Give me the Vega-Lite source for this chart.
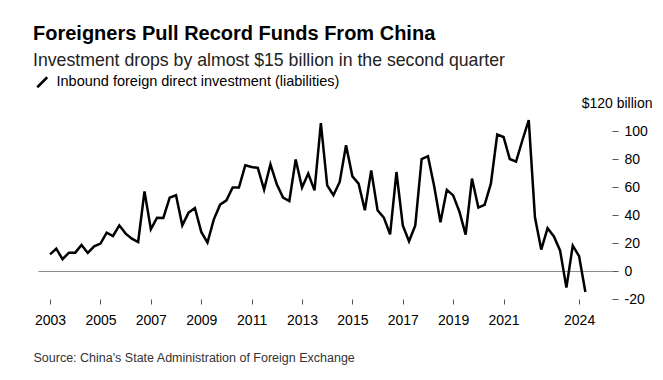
{
  "$schema": "https://vega.github.io/schema/vega-lite/v6.json",
  "width": 574,
  "height": 196,
  "autosize": {"type": "none"},
  "padding": {"left": 38, "top": 103, "right": 51, "bottom": 81},
  "background": "#ffffff",
  "config": {
    "view": {"stroke": null},
    "font": "Liberation Sans"
  },
  "title": {
    "text": "Foreigners Pull Record Funds From China",
    "subtitle": "Investment drops by almost $15 billion in the second quarter",
    "anchor": "start",
    "frame": "group",
    "dx": -5,
    "offset": 5,
    "font": "Liberation Sans",
    "fontSize": 20,
    "fontWeight": "bold",
    "color": "#000000",
    "subtitleFont": "Liberation Sans",
    "subtitleFontSize": 17.7,
    "subtitleColor": "#222222",
    "subtitlePadding": 8
  },
  "data": {
    "values": [
      {"date": "2003-01-01", "value": 11.9}, {"date": "2003-04-01", "value": 16}, {"date": "2003-07-01", "value": 8.4}, {"date": "2003-10-01", "value": 13.1},
      {"date": "2004-01-01", "value": 13.1}, {"date": "2004-04-01", "value": 18.6}, {"date": "2004-07-01", "value": 12.9}, {"date": "2004-10-01", "value": 17.6},
      {"date": "2005-01-01", "value": 19.6}, {"date": "2005-04-01", "value": 27.4}, {"date": "2005-07-01", "value": 25}, {"date": "2005-10-01", "value": 32.6},
      {"date": "2006-01-01", "value": 26.7}, {"date": "2006-04-01", "value": 23.1}, {"date": "2006-07-01", "value": 20.7}, {"date": "2006-10-01", "value": 56.9},
      {"date": "2007-01-01", "value": 29.8}, {"date": "2007-04-01", "value": 38.1}, {"date": "2007-07-01", "value": 37.9}, {"date": "2007-10-01", "value": 52.4},
      {"date": "2008-01-01", "value": 54.1}, {"date": "2008-04-01", "value": 32.6}, {"date": "2008-07-01", "value": 41.7}, {"date": "2008-10-01", "value": 45},
      {"date": "2009-01-01", "value": 27.9}, {"date": "2009-04-01", "value": 20.3}, {"date": "2009-07-01", "value": 36.7}, {"date": "2009-10-01", "value": 47.4},
      {"date": "2010-01-01", "value": 50.5}, {"date": "2010-04-01", "value": 59.6}, {"date": "2010-07-01", "value": 59.6}, {"date": "2010-10-01", "value": 75.5},
      {"date": "2011-01-01", "value": 74.3}, {"date": "2011-04-01", "value": 73.6}, {"date": "2011-07-01", "value": 58.1}, {"date": "2011-10-01", "value": 76.2},
      {"date": "2012-01-01", "value": 61.9}, {"date": "2012-04-01", "value": 52.4}, {"date": "2012-07-01", "value": 50}, {"date": "2012-10-01", "value": 79.6},
      {"date": "2013-01-01", "value": 59.6}, {"date": "2013-04-01", "value": 69.6}, {"date": "2013-07-01", "value": 57.6}, {"date": "2013-10-01", "value": 105.7},
      {"date": "2014-01-01", "value": 61.2}, {"date": "2014-04-01", "value": 54.1}, {"date": "2014-07-01", "value": 63.6}, {"date": "2014-10-01", "value": 89.8},
      {"date": "2015-01-01", "value": 67.6}, {"date": "2015-04-01", "value": 62.4}, {"date": "2015-07-01", "value": 43.4}, {"date": "2015-10-01", "value": 71.9},
      {"date": "2016-01-01", "value": 43.4}, {"date": "2016-04-01", "value": 38.1}, {"date": "2016-07-01", "value": 26.2}, {"date": "2016-10-01", "value": 70.7},
      {"date": "2017-01-01", "value": 32.6}, {"date": "2017-04-01", "value": 21.2}, {"date": "2017-07-01", "value": 32.6}, {"date": "2017-10-01", "value": 80},
      {"date": "2018-01-01", "value": 82}, {"date": "2018-04-01", "value": 60.5}, {"date": "2018-07-01", "value": 34.8}, {"date": "2018-10-01", "value": 58},
      {"date": "2019-01-01", "value": 54}, {"date": "2019-04-01", "value": 42.5}, {"date": "2019-07-01", "value": 26}, {"date": "2019-10-01", "value": 66},
      {"date": "2020-01-01", "value": 45.3}, {"date": "2020-04-01", "value": 47.2}, {"date": "2020-07-01", "value": 62.4}, {"date": "2020-10-01", "value": 97.5},
      {"date": "2021-01-01", "value": 95.7}, {"date": "2021-04-01", "value": 80}, {"date": "2021-07-01", "value": 78.1}, {"date": "2021-10-01", "value": 93.4},
      {"date": "2022-01-01", "value": 107.8}, {"date": "2022-04-01", "value": 38.4}, {"date": "2022-07-01", "value": 15.3}, {"date": "2022-10-01", "value": 30.6},
      {"date": "2023-01-01", "value": 24.7}, {"date": "2023-04-01", "value": 14.5}, {"date": "2023-07-01", "value": -11.9}, {"date": "2023-10-01", "value": 18.1},
      {"date": "2024-01-01", "value": 10.6}, {"date": "2024-04-01", "value": -15}
    ]
  },
  "mark": {"type": "line", "strokeWidth": 2.5, "strokeJoin": "miter"},
  "encoding": {
    "x": {
      "field": "date",
      "type": "temporal",
      "scale": {
        "type": "utc",
        "domain": [
          {"year": 2002, "month": 7, "date": 10, "utc": true},
          {"year": 2025, "month": 4, "date": 22, "utc": true}
        ]
      },
      "axis": {
        "values": [
          {"year": 2003, "utc": true}, {"year": 2005, "utc": true}, {"year": 2007, "utc": true},
          {"year": 2009, "utc": true}, {"year": 2011, "utc": true}, {"year": 2013, "utc": true},
          {"year": 2015, "utc": true}, {"year": 2017, "utc": true}, {"year": 2019, "utc": true},
          {"year": 2021, "utc": true}, {"year": 2024, "utc": true}
        ],
        "format": "%Y",
        "formatType": "utc",
        "domain": false,
        "grid": false,
        "tickSize": 5,
        "tickColor": "#555555",
        "labelPadding": 9,
        "labelFontSize": 14,
        "labelFont": "Liberation Sans",
        "labelColor": "#000000",
        "labelFlush": false,
        "labelOverlap": false,
        "title": "Source: China's State Administration of Foreign Exchange",
        "titleAnchor": "start",
        "titleAlign": "left",
        "titleX": -5,
        "titleY": 58,
        "titleBaseline": "middle",
        "titleFont": "Liberation Sans",
        "titleFontSize": 12.5,
        "titleFontWeight": "normal",
        "titleColor": "#333333"
      }
    },
    "y": {
      "field": "value",
      "type": "quantitative",
      "scale": {"domain": [-20, 120], "nice": false, "zero": false},
      "axis": {
        "orient": "right",
        "values": [-20, 0, 20, 40, 60, 80, 100, 120],
        "domain": false,
        "grid": true,
        "gridColor": "#8c8c8c",
        "gridWidth": 1.2,
        "gridOpacity": {"condition": {"test": "datum.value === 0", "value": 1}, "value": 0},
        "tickSize": 6,
        "tickColor": "#555555",
        "tickOpacity": {"condition": {"test": "datum.value === 120", "value": 0}, "value": 1},
        "labelExpr": "datum.value === 120 ? '$120 billion' : replace(datum.label, '\u2212', '-')",
        "labelAlign": {"condition": {"test": "datum.value === 120", "value": "right"}, "value": "left"},
        "labelPadding": {"condition": {"test": "datum.value === 120", "value": 34}, "value": 6},
        "labelFontSize": 14,
        "labelFont": "Liberation Sans",
        "labelColor": "#000000",
        "labelFlush": false,
        "labelOverlap": false,
        "title": null
      }
    },
    "color": {
      "datum": "Inbound foreign direct investment (liabilities)",
      "type": "nominal",
      "scale": {"range": ["#000000"]},
      "legend": {
        "orient": "none",
        "legendX": -3,
        "legendY": -28,
        "title": null,
        "symbolType": "M-1,1L1,-1",
        "symbolSize": 100,
        "symbolStrokeWidth": 2.5,
        "symbolStrokeColor": "#000000",
        "symbolFillColor": "transparent",
        "labelFontSize": 14.5,
        "labelFont": "Liberation Sans",
        "labelColor": "#000000",
        "labelOffset": 7,
        "labelLimit": 500
      }
    }
  }
}
